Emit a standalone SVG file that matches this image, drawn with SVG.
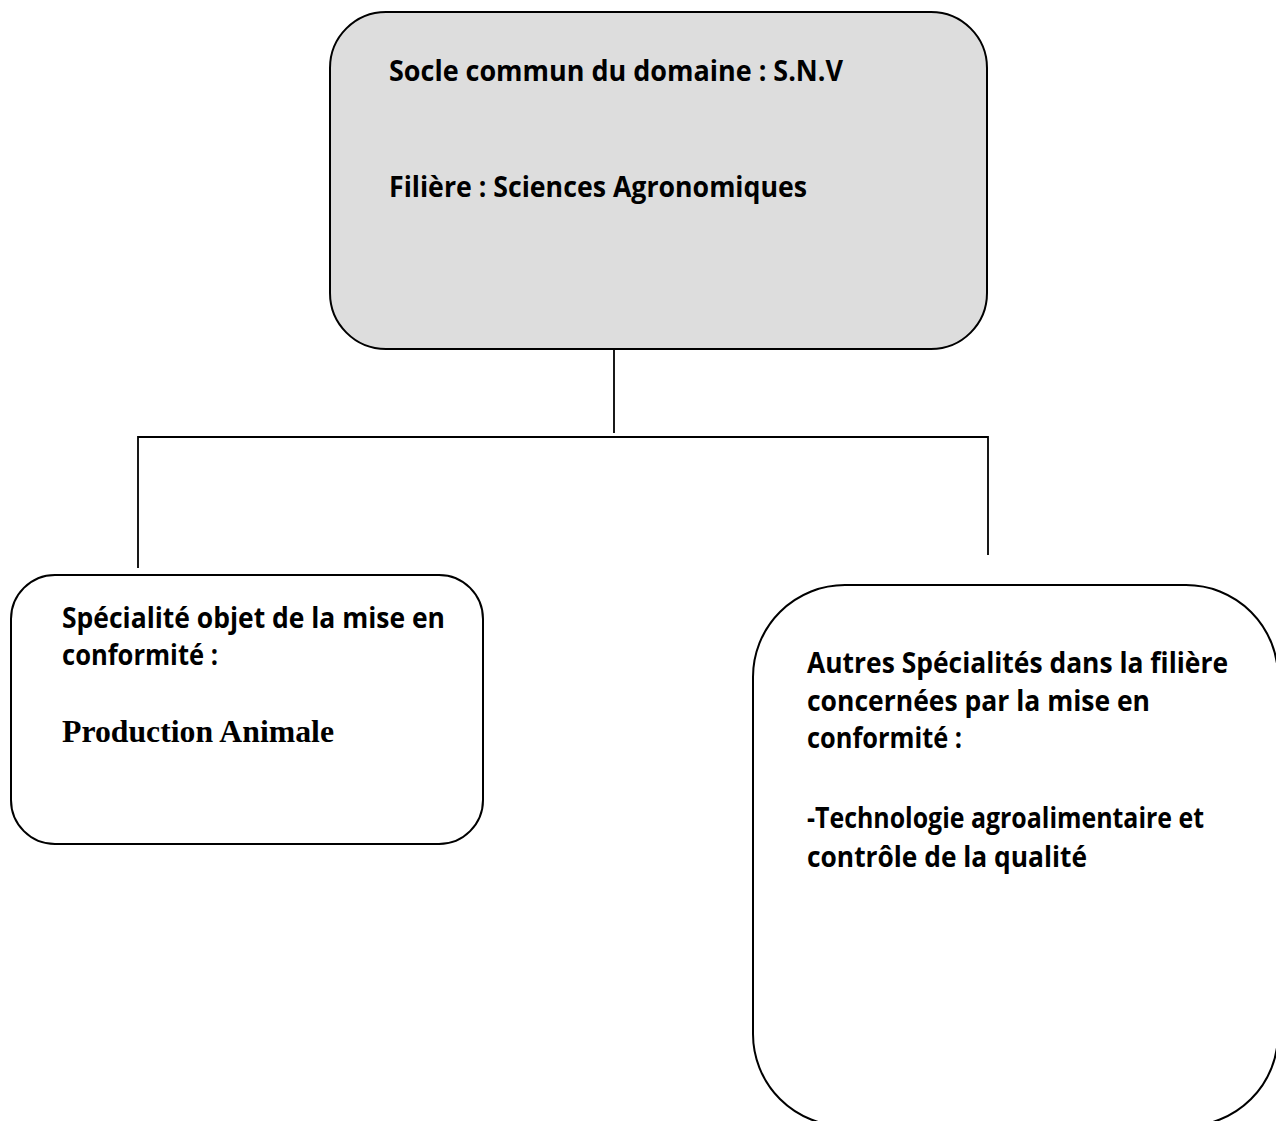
<svg xmlns="http://www.w3.org/2000/svg" width="1276" height="1121" viewBox="0 0 1276 1121">
<style>
.box{stroke:#000;stroke-width:2;}
.gray{fill:#dddddd;}
.white{fill:#ffffff;}
.t{font-family:"Open Sans","Noto Sans",sans-serif;font-weight:bold;font-size:28px;fill:#000;}
.s{font-family:"Liberation Serif","Times New Roman",serif;font-weight:bold;font-size:31px;fill:#000;}
.conn{stroke:#000;stroke-width:1.8;fill:none;}
</style>
<rect width="1276" height="1121" fill="#ffffff"/>
<g id="connectors">
<line class="conn" x1="614" y1="349" x2="614" y2="433"/>
<polyline class="conn" points="138,568 138,437 988,437 988,555"/>
</g>
<g id="node-socle">
<rect class="box gray" x="330" y="12" width="657" height="337" rx="56" ry="56"/>
<text class="t" x="389" y="81" textLength="454" lengthAdjust="spacingAndGlyphs">Socle commun du domaine : S.N.V</text>
<text class="t" x="389" y="197" textLength="418" lengthAdjust="spacingAndGlyphs">Filière : Sciences Agronomiques</text>
</g>
<g id="node-specialite">
<rect class="box white" x="11" y="575" width="472" height="269" rx="44" ry="44"/>
<text class="t" x="62" y="628" textLength="383" lengthAdjust="spacingAndGlyphs">Spécialité objet de la mise en</text>
<text class="t" x="62" y="665" textLength="156" lengthAdjust="spacingAndGlyphs">conformité :</text>
<text class="s" x="62" y="742" textLength="272" lengthAdjust="spacingAndGlyphs">Production Animale</text>
</g>
<g id="node-autres">
<rect class="box white" x="753" y="585" width="525" height="541" rx="92" ry="92"/>
<text class="t" x="807" y="673" textLength="421" lengthAdjust="spacingAndGlyphs">Autres Spécialités dans la filière</text>
<text class="t" x="807" y="711" textLength="343" lengthAdjust="spacingAndGlyphs">concernées par la mise en</text>
<text class="t" x="807" y="748" textLength="155" lengthAdjust="spacingAndGlyphs">conformité :</text>
<text class="t" x="807" y="828" textLength="397" lengthAdjust="spacingAndGlyphs">-Technologie agroalimentaire et</text>
<text class="t" x="807" y="867" textLength="280" lengthAdjust="spacingAndGlyphs">contrôle de la qualité</text>
</g>
</svg>
